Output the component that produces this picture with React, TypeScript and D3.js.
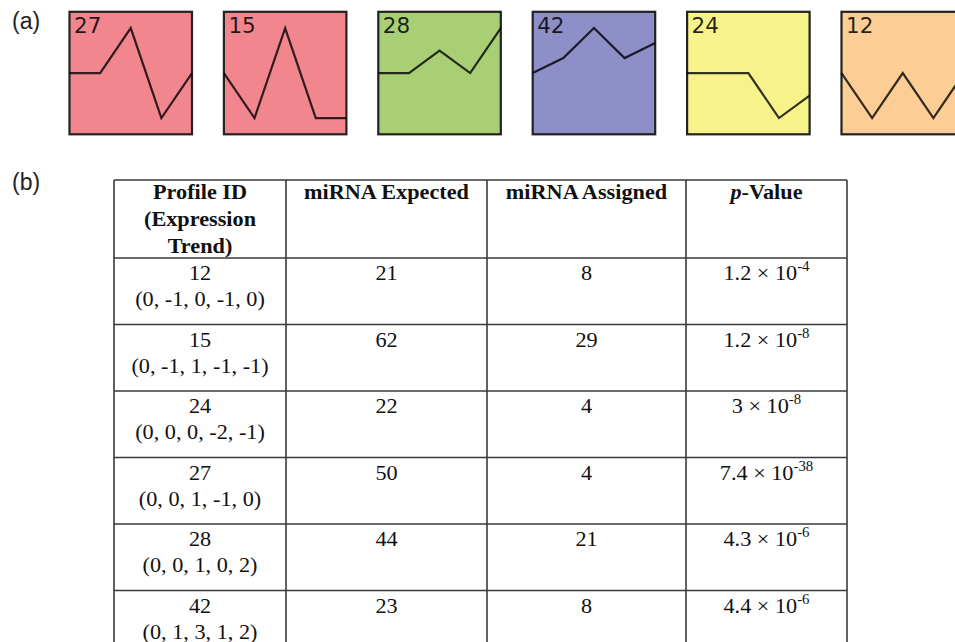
import React from "react";
import * as d3 from "d3";

// Panel (a): expression profiles
const profileOrder = [27, 15, 28, 42, 24, 12];
const profileColors = ["#f2868f", "#f2868f", "#a8cf73", "#8e8ec8", "#f8f28b", "#fccd95"];
const profileTrends: number[][] = [
  [0, 0, 1, -1, 0],
  [0, -1, 1, -1, -1],
  [0, 0, 1, 0, 2],
  [0, 1, 3, 1, 2],
  [0, 0, 0, -2, -1],
  [0, -1, 0, -1, 0],
];

// Panel (b): enrichment table
const headers = ["Profile ID", "miRNA Expected", "miRNA Assigned", "p-Value"];
const tableIds = [12, 15, 24, 27, 28, 42];
const tableTrends = [
  "(0, -1, 0, -1, 0)",
  "(0, -1, 1, -1, -1)",
  "(0, 0, 0, -2, -1)",
  "(0, 0, 1, -1, 0)",
  "(0, 0, 1, 0, 2)",
  "(0, 1, 3, 1, 2)",
];
const expected = [21, 62, 22, 50, 44, 23];
const assigned = [8, 29, 4, 4, 21, 8];
const pMantissa = ["1.2", "1.2", "3", "7.4", "4.3", "4.4"];
const pExponent = ["-4", "-8", "-8", "-38", "-6", "-6"];

const W = 955;
const H = 642;

const boxLeft = 69.5;
const boxPitch = 154.4;
const boxSize = 122.5;
const boxTop = 11.8;

const colEdges = [114, 286, 487, 686, 847];
const tableTop = 180;
const headerBottom = 258;
const rowH = 66.5;

const serif = "'Liberation Serif', 'Times New Roman', serif";
const sansA = "'Liberation Sans', Arial, sans-serif";
const sansBox = "'DejaVu Sans', Verdana, sans-serif";

function SerifText(props: { x: number; y: number; children: React.ReactNode; bold?: boolean }) {
  const { x, y, children, bold } = props;
  return (
    <text
      transform={`translate(${x},${y}) scale(1.06,1)`}
      textAnchor="middle"
      fontFamily={serif}
      fontSize={21}
      fontWeight={bold ? "bold" : "normal"}
      fill="#111"
    >
      {children}
    </text>
  );
}

function ProfileBox(props: { i: number }) {
  const { i } = props;
  const vals = profileTrends[i];
  const x0 = boxLeft + i * boxPitch;
  const maxAbs = d3.max(vals, (v) => Math.abs(v)) || 1;
  const x = d3.scaleLinear().domain([0, vals.length - 1]).range([x0, x0 + boxSize]);
  const cy = boxTop + boxSize / 2;
  const y = d3.scaleLinear().domain([-maxAbs, maxAbs]).range([cy + 45, cy - 45]);
  const line = d3
    .line<number>()
    .x((_, j) => x(j))
    .y((v) => y(v));
  return (
    <g>
      <rect x={x0} y={boxTop} width={boxSize} height={boxSize} fill={profileColors[i]} stroke="#222" strokeWidth={2.2} />
      <path d={line(vals) || ""} fill="none" stroke="rgba(0,0,0,0.8)" strokeWidth={2.2} strokeLinejoin="miter" />
      <text x={x0 + 4.5} y={boxTop + 21.5} fontFamily={sansBox} fontSize={21.5} fill="rgba(0,0,0,0.85)">
        {profileOrder[i]}
      </text>
    </g>
  );
}

export default function App() {
  const colCenter = (c: number) => (colEdges[c] + colEdges[c + 1]) / 2;
  const rowTops = tableIds.map((_, r) => headerBottom + r * rowH);
  const lineColor = "#3a3a3a";

  return (
    <svg
      width={W}
      height={H}
      viewBox={`0 0 ${W} ${H}`}
      style={{ position: "absolute", left: 0, top: 0, background: "#fff" }}
    >
      <rect x={0} y={0} width={W} height={H} fill="#fff" />

      {/* (a) */}
      <text x={12} y={29} fontFamily={sansA} fontSize={23} fill="#222">
        (a)
      </text>
      {profileOrder.map((_, i) => (
        <ProfileBox key={i} i={i} />
      ))}

      {/* (b) */}
      <text x={12} y={190} fontFamily={sansA} fontSize={23} fill="#222">
        (b)
      </text>

      {/* table grid */}
      <g stroke={lineColor} strokeWidth={1.6}>
        <line x1={colEdges[0]} x2={colEdges[4]} y1={tableTop} y2={tableTop} />
        <line x1={colEdges[0]} x2={colEdges[4]} y1={headerBottom} y2={headerBottom} />
        {rowTops.map((t, r) => (
          <line key={r} x1={colEdges[0]} x2={colEdges[4]} y1={t + rowH} y2={t + rowH} />
        ))}
        {colEdges.map((cx, c) => (
          <line key={c} x1={cx} x2={cx} y1={tableTop} y2={headerBottom + rowH * tableIds.length} />
        ))}
      </g>

      {/* header */}
      <SerifText x={colCenter(0)} y={tableTop + 19} bold>
        {headers[0]}
      </SerifText>
      <SerifText x={colCenter(0)} y={tableTop + 46} bold>
        (Expression
      </SerifText>
      <SerifText x={colCenter(0)} y={tableTop + 73} bold>
        Trend)
      </SerifText>
      <SerifText x={colCenter(1)} y={tableTop + 19} bold>
        {headers[1]}
      </SerifText>
      <SerifText x={colCenter(2)} y={tableTop + 19} bold>
        {headers[2]}
      </SerifText>
      <SerifText x={colCenter(3)} y={tableTop + 19} bold>
        <tspan fontStyle="italic">p</tspan>
        <tspan>{headers[3].slice(1)}</tspan>
      </SerifText>

      {/* body rows */}
      {tableIds.map((id, r) => {
        const t = rowTops[r];
        return (
          <g key={id}>
            <SerifText x={colCenter(0)} y={t + 22}>
              {id}
            </SerifText>
            <SerifText x={colCenter(0)} y={t + 48}>
              {tableTrends[r]}
            </SerifText>
            <SerifText x={colCenter(1)} y={t + 22}>
              {expected[r]}
            </SerifText>
            <SerifText x={colCenter(2)} y={t + 22}>
              {assigned[r]}
            </SerifText>
            <SerifText x={colCenter(3)} y={t + 22}>
              <tspan>{`${pMantissa[r]} \u00d7 10`}</tspan>
              <tspan dy={-9} fontSize={14}>
                {pExponent[r]}
              </tspan>
            </SerifText>
          </g>
        );
      })}
    </svg>
  );
}
